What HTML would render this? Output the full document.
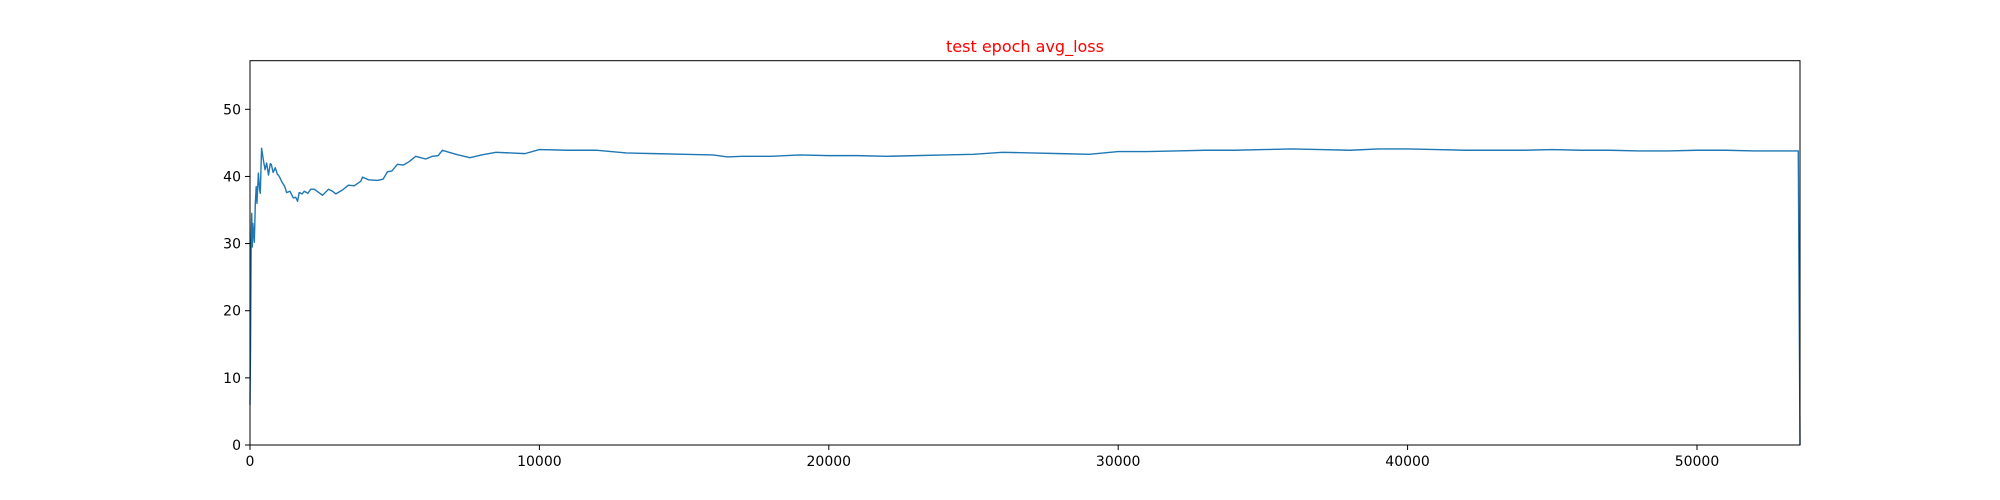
<!DOCTYPE html>
<html><head><meta charset="utf-8"><style>
html,body{margin:0;padding:0;background:#fff;width:2000px;height:500px;overflow:hidden}
text{font-family:"DejaVu Sans","Liberation Sans",sans-serif;font-size:14px}
</style></head><body>
<svg id="chart" width="2000" height="500" xmlns="http://www.w3.org/2000/svg">
<rect x="0" y="0" width="2000" height="500" fill="#fff"/>
<text x="1025" y="52" text-anchor="middle" fill="#ff0000" style="font-size:16px">test epoch avg_loss</text>
<g id="plot"></g>
</svg>
<script>
const steps = [0,20,40,60,80,100,150,184,215,241,290,333,356,400,460,520,575,640,700,736,800,874,940,1012,1100,1200,1265,1380,1495,1580,1645,1700,1800,1875,2000,2100,2220,2350,2507,2600,2714,2850,2967,3200,3404,3600,3830,3887,4100,4405,4600,4750,4900,5095,5300,5497,5727,5900,6072,6300,6500,6647,6877,7200,7600,8000,8500,9000,9500,10000,11000,12000,13000,14000,15000,16000,16500,17000,18000,19000,20000,21000,22000,23000,24000,25000,26000,27000,28000,29000,30000,31000,32000,33000,34000,35000,36000,37000,38000,39000,40000,41000,42000,43000,44000,45000,46000,47000,48000,49000,50000,51000,52000,53000,53500,53560];
const losses = [6,15,30,34.5,29.5,33,30.2,36,38.5,36,40.5,38,37.5,44.2,42.5,41,42,40.2,41.9,41.8,40.6,41.3,40.4,40,39.2,38.5,37.6,37.8,36.8,36.9,36.3,37.6,37.4,37.8,37.5,38.1,38.1,37.7,37.2,37.6,38.1,37.8,37.4,38,38.7,38.6,39.3,39.9,39.5,39.4,39.6,40.7,40.8,41.8,41.7,42.2,43,42.8,42.6,43,43.1,43.9,43.6,43.2,42.8,43.2,43.6,43.5,43.4,44.0,43.9,43.9,43.5,43.4,43.3,43.2,42.9,43.0,43.0,43.2,43.1,43.1,43.0,43.1,43.2,43.3,43.6,43.5,43.4,43.3,43.7,43.7,43.8,43.9,43.9,44.0,44.1,44.0,43.9,44.1,44.1,44.0,43.9,43.9,43.9,44.0,43.9,43.9,43.8,43.8,43.9,43.9,43.8,43.8,43.8,0];
const xTicks = [0,10000,20000,30000,40000,50000];
const yTicks = [0,10,20,30,40,50];
const X0=250, X1=1800, Y0=445, Y1=60.7, XMAX=53560, YMAX=57.24;
const sx = v => X0 + (X1-X0)*v/XMAX;
const sy = v => Y0 - (Y0-Y1)*v/YMAX;
const NS='http://www.w3.org/2000/svg';
const g=document.getElementById('plot');
function mk(tag,attrs){const e=document.createElementNS(NS,tag);for(const k in attrs)e.setAttribute(k,attrs[k]);g.appendChild(e);return e;}
let d='';
steps.forEach((s,i)=>{d+=(i?'L':'M')+sx(s).toFixed(2)+','+sy(losses[i]).toFixed(2);});
const line=mk('path',{d:d,fill:'none',stroke:'#1f77b4','stroke-width':1.4,'stroke-linejoin':'round'});


const frame=mk('rect',{x:X0,y:Y1,width:X1-X0,height:Y0-Y1,fill:'none',stroke:'#000','stroke-width':1});


xTicks.forEach(t=>{
  const x=sx(t);
  const tk=mk('line',{x1:x,x2:x,y1:Y0,y2:Y0+5,stroke:'#000','stroke-width':1});
  
  
  const lb=mk('text',{x:x,y:Y0+21,'text-anchor':'middle',fill:'#000'});
  lb.textContent=t;
  
  
});
yTicks.forEach(t=>{
  const y=sy(t);
  const tk=mk('line',{x1:X0-5,x2:X0,y1:y,y2:y,stroke:'#000','stroke-width':1});
  
  
  const lb=mk('text',{x:X0-9,y:y+5,'text-anchor':'end',fill:'#000'});
  lb.textContent=t;
  
  
});
</script>
</body></html>
